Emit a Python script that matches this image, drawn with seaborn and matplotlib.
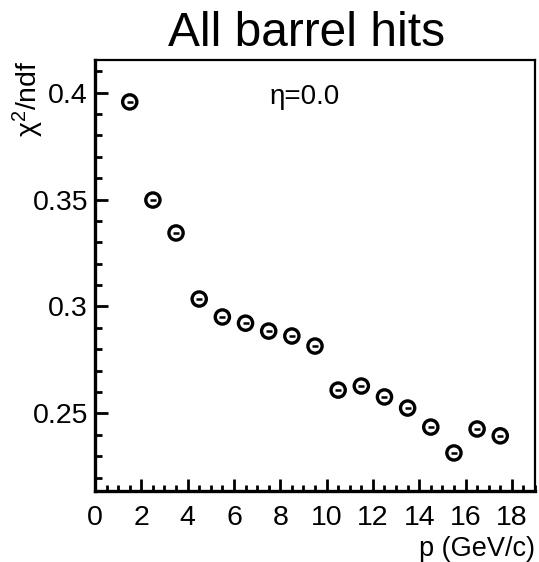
import numpy as np
import pandas as pd
import matplotlib
matplotlib.use("Agg")
import matplotlib.pyplot as plt
import seaborn as sns
from matplotlib.ticker import MultipleLocator

# chi2/ndf of the track fit versus momentum, barrel only, eta = 0
p_gev = [1.5, 2.5, 3.5, 4.5, 5.5, 6.5, 7.5, 8.5, 9.5,
         10.5, 11.5, 12.5, 13.5, 14.5, 15.5, 16.5, 17.5]
chi2_ndf = [0.3957, 0.3498, 0.3344, 0.3035, 0.2951, 0.2922, 0.2885, 0.2862, 0.2815,
            0.2609, 0.2628, 0.2577, 0.2525, 0.2436, 0.2315, 0.2427, 0.2395]
x_ticks = [0, 2, 4, 6, 8, 10, 12, 14, 16, 18]
y_ticks = [0.25, 0.3, 0.35, 0.4]
y_tick_labels = ["0.25", "0.3", "0.35", "0.4"]

df = pd.DataFrame({"p": p_gev, "chi2": chi2_ndf})

sns.set_theme(style="white")
plt.rcParams["font.family"] = ["Liberation Sans", "DejaVu Sans"]
plt.rcParams["mathtext.fontset"] = "custom"
plt.rcParams["mathtext.rm"] = "Liberation Sans"
plt.rcParams["mathtext.it"] = "Liberation Sans:italic"
plt.rcParams["text.color"] = "black"
plt.rcParams["axes.labelcolor"] = "black"
plt.rcParams["xtick.color"] = "black"
plt.rcParams["ytick.color"] = "black"

fig = plt.figure(figsize=(5.39, 5.62), dpi=100)
ax = fig.add_axes([95 / 539, 1 - 491 / 562, 440 / 539, 431 / 562])

sns.scatterplot(data=df, x="p", y="chi2", ax=ax, marker="o", s=105,
                facecolors="none", edgecolor="black", linewidth=2.4, zorder=3)
sns.scatterplot(data=df, x="p", y="chi2", ax=ax, marker="_", s=20,
                color="black", linewidth=1.8, zorder=4)

ax.set_xlim(0, 19)
ax.set_ylim(0.2137, 0.4153)

ax.set_xticks(x_ticks)
ax.set_xticklabels([str(t) for t in x_ticks])
ax.set_yticks(y_ticks)
ax.set_yticklabels(y_tick_labels)
ax.xaxis.set_minor_locator(MultipleLocator(0.5))
ax.yaxis.set_minor_locator(MultipleLocator(0.01))

ax.tick_params(axis="both", which="major", direction="in", length=12.5 * 0.72,
               width=2.0, labelsize=20.5)
ax.tick_params(axis="both", which="minor", direction="in", length=6.5 * 0.72,
               width=2.0)
ax.tick_params(axis="x", which="both", top=False, bottom=True)
ax.tick_params(axis="y", which="both", left=True, right=False)
ax.tick_params(axis="x", which="major", pad=10)
ax.tick_params(axis="y", which="major", pad=5)

for side in ("left", "bottom"):
    ax.spines[side].set_linewidth(2.4)
    ax.spines[side].set_color("black")
for side in ("top", "right"):
    ax.spines[side].set_linewidth(1.6)
    ax.spines[side].set_color("black")

ax.set_xlabel("p (GeV/c)", fontsize=19.5, loc="right")
ax.xaxis.set_label_coords(1.0, -0.105)
ax.set_ylabel("χ$^{2}$/ndf", fontsize=20.5, loc="top")
ax.yaxis.set_label_coords(-0.112, 1.0)

ax.text(9.07, 0.398, "η=0.0", fontsize=20, ha="center", va="center")

fig.text(307 / 539, 1 - 33 / 562, "All barrel hits", fontsize=34.5,
         ha="center", va="center")

fig.savefig("out.png", dpi=100)
